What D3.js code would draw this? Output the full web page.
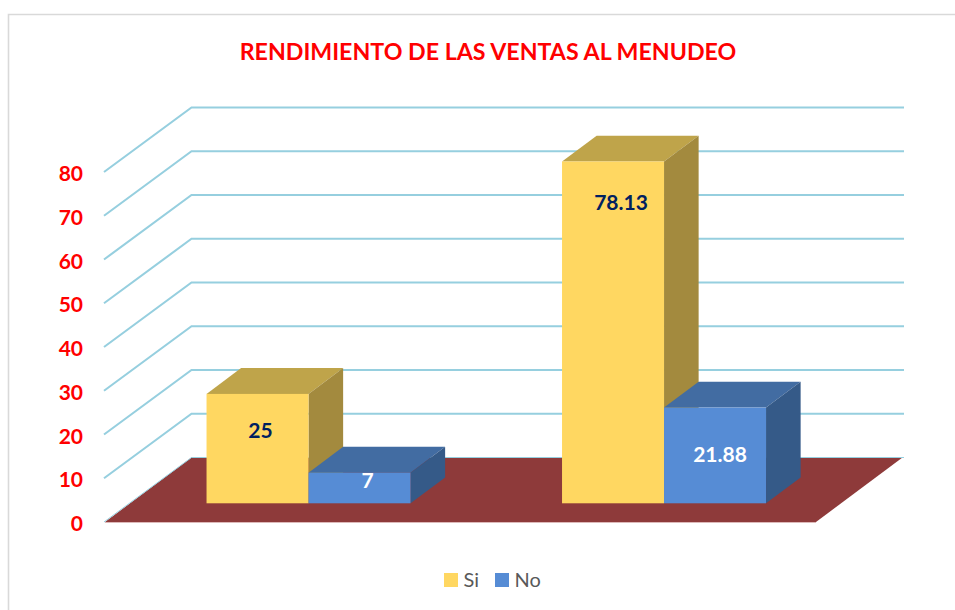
<!DOCTYPE html>
<html><head><meta charset="utf-8">
<script src="https://cdn.jsdelivr.net/npm/d3@7"></script>
<style>html,body{margin:0;padding:0;background:#fff}svg{display:block}text{font-family:Lato,"Open Sans",sans-serif}</style>
</head><body><svg id="c" width="955" height="610"></svg>
<script>
const titleText = "RENDIMIENTO DE LAS VENTAS AL MENUDEO";
const categories = ["Grupo 1", "Grupo 2"];
const seriesNames = ["Si", "No"];
const siValues = [25, 78.13];
const noValues = [7, 21.88];
const tickValues = [0, 10, 20, 30, 40, 50, 60, 70, 80];

const yellow = {front:"#FFD761", top:"#BFA44A", side:"#A38A3E"};
const blue = {front:"#568CD5", top:"#426CA2", side:"#355A88"};
const palette = [yellow, blue];
const labelColors = ["#002060", "#FFFFFF"];
// label placement: x shift from front-face centre, y drop below the bar's top edge
const labelShift = [[[3,37],[8,8]],[[8,41],[5,47]]];

const svg = d3.select("#c");
svg.append("path").attr("d","M8.5,610V14.5H955").attr("fill","none").attr("stroke","#D9D9D9").attr("stroke-width",1.6);

svg.append("text").attr("x",488).attr("y",60).attr("text-anchor","middle")
  .attr("font-size",23.2).attr("font-weight",700).attr("fill","#FF0000").text(titleText);

const plotLeft = 105, plotRight = 816, baseY = 522, topY = 172;
const depthX = 86.5, depthY = -64.5;          // floor depth offset
const barFront = 0.29, barDepth = 0.4;        // fractions of floor depth
const y = d3.scaleLinear().domain([0,80]).range([baseY, topY]);
const h = v => y(0) - y(v);
const x0 = d3.scaleBand().domain(categories).range([plotLeft + 0.7 + depthX*barFront, plotRight + 0.7 + depthX*barFront]);
const x1 = d3.scaleBand().domain(seriesNames).range([-102, 102]);
const poly = pts => pts.map(p => p.join(",")).join(" ");

// floor
svg.append("polygon")
  .attr("points", poly([[plotLeft,baseY],[plotLeft+depthX,baseY+depthY],[plotRight+depthX,baseY+depthY],[plotRight,baseY]]))
  .attr("fill","#8E3A3A");
svg.append("line").attr("x1",plotLeft).attr("y1",baseY+.5).attr("x2",plotRight).attr("y2",baseY+.5).attr("stroke","#DDB9B9").attr("stroke-width",1);

// gridlines
const grid = svg.append("g").attr("fill","none").attr("stroke","#96CFDF");
tickValues.forEach(t => {
  const d = d3.line()([[plotLeft-1,y(t)],[plotLeft+depthX,y(t)+depthY],[904,y(t)+depthY]]);
  grid.append("path").attr("d",d).attr("stroke-width", t===0 ? 1 : 2.1);
});

// y axis
const axis = svg.append("g").attr("transform","translate(86,2)")
  .call(d3.axisLeft(y).tickValues(tickValues).tickSize(0).tickPadding(3));
axis.select(".domain").remove();
axis.selectAll("text").attr("font-size",21).attr("font-weight",700).attr("fill","#FF0000")
  .style("font-family","Lato,'Open Sans',sans-serif");

// bars
const bases = baseY + depthY*barFront;
const dx = depthX*barDepth, dy = depthY*barDepth;
const rows = categories.flatMap((c,i) => [
  {c,i,j:0,s:seriesNames[0],v:siValues[i]},
  {c,i,j:1,s:seriesNames[1],v:noValues[i]}
]);
const bars = svg.append("g").selectAll("g").data(rows).join("g");
bars.each(function(d){
  const g = d3.select(this), cx = x0(d.c)+x0.bandwidth()/2;
  const l = cx + x1(d.s), r = l + x1.bandwidth(), t = bases - h(d.v), b = bases;
  const col = palette[d.j];
  g.append("polygon").attr("points",poly([[l,t],[l+dx,t+dy],[r+dx,t+dy],[r,t]])).attr("fill",col.top);
  g.append("polygon").attr("points",poly([[r,t],[r+dx,t+dy],[r+dx,b+dy],[r,b]])).attr("fill",col.side);
  g.append("rect").attr("x",l).attr("y",t).attr("width",r-l).attr("height",b-t).attr("fill",col.front);
});
// value labels
svg.append("g").selectAll("text").data(rows).join("text")
  .attr("x",d => x0(d.c)+x0.bandwidth()/2 + x1(d.s) + x1.bandwidth()/2 + labelShift[d.i][d.j][0])
  .attr("y",d => bases - h(d.v) + labelShift[d.i][d.j][1])
  .attr("dy","0.35em").attr("text-anchor","middle")
  .attr("font-size",21).attr("font-weight",700).attr("fill",d => labelColors[d.j]).text(d => d.v);

// legend
const legendX = d3.scaleOrdinal().domain(seriesNames).range([444,495]);
const leg = svg.append("g").selectAll("g").data(seriesNames).join("g");
leg.append("rect").attr("x",d=>legendX(d)).attr("y",573).attr("width",14).attr("height",14)
  .attr("fill",(d,i)=>palette[i].front);
leg.append("text").attr("x",d=>legendX(d)+19.5).attr("y",587).attr("font-size",20).attr("fill","#595959").text(d=>d);
</script></body></html>
